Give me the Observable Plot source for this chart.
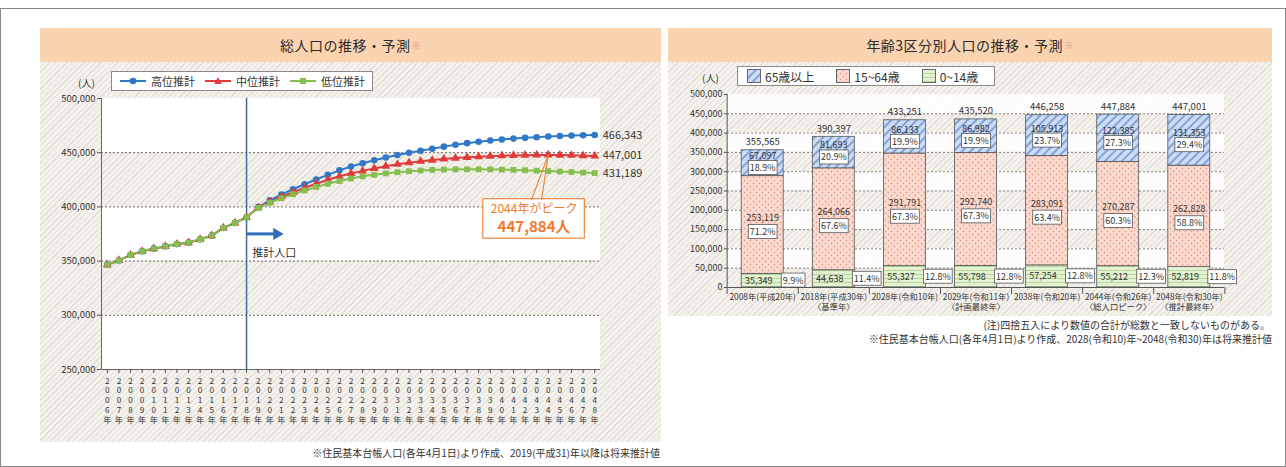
<!DOCTYPE html>
<html><head><meta charset="utf-8">
<script src="https://cdn.jsdelivr.net/npm/d3@7"></script>
<script src="https://cdn.jsdelivr.net/npm/@observablehq/plot@0.6"></script>
<style>
body{margin:0;width:1286px;height:467px;background:#fff;position:relative;overflow:hidden;font-family:"Noto Sans CJK JP","Noto Sans",sans-serif;color:#333}
.abs{position:absolute}
.hatch{background-color:#F5F2ED;background-image:repeating-linear-gradient(135deg, rgba(0,0,0,0) 0 3px, #E3DFD7 3px 4px);}
.hdr{background:#FAD4B0;display:flex;align-items:center;justify-content:center;font-size:14px;color:#2a2a2a;letter-spacing:0.5px}
.hdr sup{font-size:9px;color:#e08a8a;vertical-align:6px;margin-left:1px}
.legend{background:#fff;border:1px solid #8a8a8a;display:flex;align-items:center;font-size:11px;color:#333;box-sizing:border-box;white-space:nowrap}
.legend span{white-space:nowrap}
.note{font-size:10px;color:#333;white-space:nowrap;text-align:right}
</style></head>
<body>
<svg width="0" height="0" style="position:absolute">
 <defs>
  <pattern id="p65" width="6" height="6" patternUnits="userSpaceOnUse" patternTransform="rotate(45)">
   <rect width="6" height="6" fill="#CCDCF4"/>
   <line x1="1" y1="0" x2="1" y2="6" stroke="#6A8FD2" stroke-width="1.5"/>
  </pattern>
  <pattern id="p1564" width="6" height="6" patternUnits="userSpaceOnUse">
   <rect width="6" height="6" fill="#FADBD2"/>
   <circle cx="1.5" cy="1.5" r="0.9" fill="#EE9C88"/>
   <circle cx="4.5" cy="4.5" r="0.9" fill="#EE9C88"/>
  </pattern>
  <pattern id="p014" width="4" height="4" patternUnits="userSpaceOnUse">
   <rect width="4" height="4" fill="#E4F2D3"/>
   <line x1="0" y1="0.5" x2="4" y2="0.5" stroke="#A8CF86" stroke-width="0.8"/>
  </pattern>
 </defs>
</svg>

<div class="abs" style="left:0;top:8px;width:1284px;height:457px;border:1px solid #888;"></div>

<!-- Left panel -->
<div class="abs hdr" style="left:40px;top:28px;width:621px;height:34px;">総人口の推移・予測<sup>※</sup></div>
<div class="abs hatch" style="left:40px;top:62px;width:621px;height:380px;"></div>
<div class="abs" id="c1" style="left:40px;top:62px;width:623px;height:383px;"></div>
<div class="abs legend" style="left:111px;top:71px;width:262px;height:20px;padding-left:8px;">
  <svg width="26" height="10"><line x1="0" y1="5" x2="26" y2="5" stroke="#2F79C8" stroke-width="2"/><circle cx="13" cy="5" r="3.3" fill="#2F79C8"/></svg>
  <span style="margin:0 10px 0 5px">高位推計</span>
  <svg width="26" height="10"><line x1="0" y1="5" x2="26" y2="5" stroke="#E03A3A" stroke-width="2"/><path d="M13,1.2 L16.8,8 L9.2,8 Z" fill="#E03A3A"/></svg>
  <span style="margin:0 10px 0 5px">中位推計</span>
  <svg width="26" height="10"><line x1="0" y1="5" x2="26" y2="5" stroke="#86BF4F" stroke-width="2"/><rect x="10" y="2" width="6" height="6" fill="#86BF4F"/></svg>
  <span style="margin:0 0 0 5px">低位推計</span>
</div>
<div class="abs" style="left:78px;top:75px;font-size:10px;">(人)</div>
<div class="abs note" style="right:626px;top:445px;">※住民基本台帳人口(各年4月1日)より作成、2019(平成31)年以降は将来推計値</div>

<!-- Right panel -->
<div class="abs hdr" style="left:668px;top:28px;width:604px;height:34px;">年齢3区分別人口の推移・予測<sup>※</sup></div>
<div class="abs hatch" style="left:668px;top:62px;width:604px;height:254px;"></div>
<div class="abs" id="c2" style="left:668px;top:62px;width:612px;height:254px;"></div>
<div class="abs legend" style="left:737px;top:66px;width:258px;height:20px;padding-left:9px;font-size:12px;">
  <svg width="14" height="14"><rect x="0.5" y="0.5" width="13" height="13" fill="url(#p65)" stroke="#666"/></svg>
  <span style="margin:0 22px 0 4px">65歳以上</span>
  <svg width="14" height="14"><rect x="0.5" y="0.5" width="13" height="13" fill="url(#p1564)" stroke="#666"/></svg>
  <span style="margin:0 22px 0 4px">15~64歳</span>
  <svg width="14" height="14"><rect x="0.5" y="0.5" width="13" height="13" fill="url(#p014)" stroke="#666"/></svg>
  <span style="margin:0 0 0 4px">0~14歳</span>
</div>
<div class="abs" style="left:702px;top:70px;font-size:10px;">(人)</div>
<div class="abs note" style="right:16px;top:317px;">(注)四捨五入により数値の合計が総数と一致しないものがある。</div>
<div class="abs note" style="right:14px;top:331px;">※住民基本台帳人口(各年4月1日)より作成、2028(令和10)年~2048(令和30)年は将来推計値</div>

<script>
const FONT = '"Noto Sans CJK JP","Noto Sans",sans-serif';

// ---------- Chart 1 data: total population ----------
const seriesNames = ["高位推計", "中位推計", "低位推計"];
const seriesColors = ["#2F79C8", "#E03A3A", "#86BF4F"];
const seriesSymbols = ["circle", "triangle", "square"];
const historicalYears = d3.range(2006, 2019);
const historical = [346700, 350600, 355565, 359000, 361500, 363600, 365700, 367000, 370100, 373500, 380600, 385200, 390397];
const projYears = d3.range(2019, 2049);
const high = [399800, 406000, 411500, 416300, 420900, 425300, 429600, 433700, 437300, 440300,
              443100, 445600, 447900, 450000, 451800, 453700, 455600, 457300, 458800, 460100,
              461200, 462200, 463000, 463700, 464300, 464900, 465400, 465800, 466100, 466343];
const mid  = [399300, 404600, 409400, 413600, 417600, 421400, 425000, 428200, 430900, 433251,
              435520, 437500, 439300, 440800, 442100, 443200, 444200, 445000, 445700, 446258,
              446800, 447200, 447500, 447700, 447850, 447884, 447800, 447600, 447300, 447001];
const low  = [399000, 403800, 408000, 411700, 415200, 418400, 421300, 423900, 426200, 428200,
              429600, 430900, 432000, 432900, 433600, 434100, 434400, 434600, 434700, 434700,
              434600, 434400, 434100, 433800, 433400, 433000, 432600, 432200, 431700, 431189];
const yTicks1 = [250000, 300000, 350000, 400000, 450000, 500000];
const baseYear = 2018;

// ---------- Chart 2 data: 3 age groups ----------
const barCats = ["2008年(平成20年)", "2018年(平成30年)\n〈基準年〉", "2028年(令和10年)", "2029年(令和11年)\n〈計画最終年〉",
                 "2038年(令和20年)", "2044年(令和26年)\n〈総人口ピーク〉", "2048年(令和30年)\n〈推計最終年〉"];
const age0_14  = [35349, 44638, 55327, 55798, 57254, 55212, 52819];
const age15_64 = [253119, 264066, 291791, 292740, 283091, 270287, 262828];
const age65    = [67097, 81693, 86133, 86982, 105913, 122385, 131353];
const totals   = [355565, 390397, 433251, 435520, 446258, 447884, 447001];
const pct0_14  = ["9.9%", "11.4%", "12.8%", "12.8%", "12.8%", "12.3%", "11.8%"];
const pct15_64 = ["71.2%", "67.6%", "67.3%", "67.3%", "63.4%", "60.3%", "58.8%"];
const pct65    = ["18.9%", "20.9%", "19.9%", "19.9%", "23.7%", "27.3%", "29.4%"];
const yTicks2 = d3.range(0, 500001, 50000);

const fmt = d3.format(",");

// ---------- Chart 1 ----------
const projections = [high, mid, low];
const rows1 = [];
seriesNames.forEach((name, k) => {
  historicalYears.forEach((yr, i) => rows1.push({series: name, year: yr, value: historical[i]}));
  projYears.forEach((yr, i) => rows1.push({series: name, year: yr, value: projections[k][i]}));
});
const ends = seriesNames.map((name, k) => ({series: name, year: 2048, value: projections[k][projections[k].length - 1]}));
const peakIdx = d3.maxIndex(mid);
const peak = {year: projYears[peakIdx], value: mid[peakIdx]};
const box = {x1: peak.year - 5.6, x2: peak.year + 3.15, y1: 370650, y2: 407130};
const tail = [{x: peak.year - 1.43, y: box.y2}, {x: peak.year, y: peak.value}, {x: peak.year - 0.57, y: box.y2}];

const c1 = Plot.plot({
  width: 623, height: 383,
  marginLeft: 61, marginRight: 63, marginTop: 36, marginBottom: 76,
  x: {domain: [2005.5, 2048.5], axis: null},
  y: {domain: [250000, 500000], axis: null},
  color: {domain: seriesNames, range: seriesColors},
  symbol: {domain: seriesNames, range: seriesSymbols},
  style: {background: "transparent", fontFamily: FONT, fontSize: "10px", color: "#333", maxWidth: "none", overflow: "visible"},
  marks: [
    Plot.rect([[450000, 500000], [350000, 400000], [250000, 300000]], {y1: d => d[0], y2: d => d[1], fill: "white"}),
    Plot.ruleY([300000, 350000, 400000, 450000], {stroke: "#444", strokeDasharray: "2,2", strokeWidth: 0.8}),
    Plot.ruleX([baseYear], {stroke: "#3D6E9E", strokeWidth: 1.5}),
    Plot.line(rows1, {x: "year", y: "value", z: "series", stroke: "series", strokeWidth: 2}),
    Plot.dot(rows1, {x: "year", y: "value", fill: "series", symbol: "series", r: 3.3, stroke: null}),
    Plot.text(ends, {x: "year", y: "value", text: d => fmt(d.value), dx: 8, textAnchor: "start", fontSize: 11, fill: "#333"}),
    // 推計人口 arrow
    Plot.link([{x1: baseYear, x2: baseYear + 2.5, y: 375100}], {x1: "x1", x2: "x2", y1: "y", y2: "y", stroke: "#2E6FB8", strokeWidth: 3}),
    Plot.dot([{x: baseYear + 2.6, y: 375100}], {x: "x", y: "y", symbol: "triangle", rotate: 90, r: 4.5, fill: "#2E6FB8"}),
    Plot.text(["推計人口"], {x: baseYear + 0.5, y: 356700, textAnchor: "start", fontSize: 11, fill: "#333"}),
    // peak callout
    Plot.rect([box], {x1: "x1", x2: "x2", y1: "y1", y2: "y2", fill: "white", stroke: "#EE8A3E", strokeWidth: 1.2}),
    Plot.line(tail, {x: "x", y: "y", stroke: "#EE8A3E", strokeWidth: 1.2}),
    Plot.text([`${peak.year}年がピーク`], {x: (box.x1 + box.x2) / 2, y: 397800, fontSize: 12, fill: "#EE7B30"}),
    Plot.text([`${fmt(peak.value)}人`], {x: (box.x1 + box.x2) / 2, y: 381000, fontSize: 15, fontWeight: "bold", fill: "#EE7B30"}),
    // axes
    Plot.ruleX([2005.5], {stroke: "#666"}),
    Plot.ruleY([250000], {stroke: "#666"}),
    Plot.axisY({ticks: yTicks1, tickFormat: fmt, tickSize: 4, tickPadding: 2, fontSize: 9.5, label: null, stroke: "#555"}),
    Plot.axisX({ticks: d3.range(2006, 2049), tickFormat: d => [...`${d}年`].join("\n"), tickSize: 4, tickPadding: 3,
                fontSize: 8.2, lineHeight: 1.2, label: null, stroke: "#555"})
  ]
});
document.getElementById("c1").appendChild(c1);

// ---------- Chart 2 ----------
const W2 = 612, ML2 = 59, MR2 = 56, PI = 0.41, PO = 0.2;
const step = (W2 - ML2 - MR2) / (barCats.length - PI + 2 * PO);
const rows2 = barCats.map((cat, i) => ({cat, a: age0_14[i], b: age15_64[i], c: age65[i], total: totals[i],
  pa: pct0_14[i], pb: pct15_64[i], pc: pct65[i]}));

const c2 = Plot.plot({
  width: W2, height: 254,
  marginLeft: ML2, marginRight: MR2, marginTop: 32, marginBottom: 29,
  x: {domain: barCats, paddingInner: PI, paddingOuter: PO, round: false, axis: null},
  y: {domain: [0, 500000], axis: null},
  style: {background: "transparent", fontFamily: FONT, fontSize: "9px", color: "#333", maxWidth: "none", overflow: "visible"},
  marks: [
    Plot.rect([[50000, 100000], [150000, 200000], [250000, 300000], [350000, 400000], [450000, 500000]], {y1: d => d[0], y2: d => d[1], fill: "white", fillOpacity: 0.85}),
    Plot.ruleY(yTicks2.filter(v => v > 0 && v < 500000), {stroke: "#555", strokeDasharray: "2,2", strokeWidth: 0.7}),
    Plot.barY(rows2, {x: "cat", y1: 0, y2: "a", fill: "url(#p014)", stroke: "#555", strokeWidth: 0.8}),
    Plot.barY(rows2, {x: "cat", y1: "a", y2: d => d.a + d.b, fill: "url(#p1564)", stroke: "#555", strokeWidth: 0.8}),
    Plot.barY(rows2, {x: "cat", y1: d => d.a + d.b, y2: d => d.a + d.b + d.c, fill: "url(#p65)", stroke: "#555", strokeWidth: 0.8}),
    Plot.text(rows2, {x: "cat", y: "total", text: d => fmt(d.total), dy: -8, fontSize: 9.5}),
    Plot.text(rows2, {x: "cat", y: d => d.a + d.b + d.c / 2, text: d => fmt(d.c), dy: -7, fontSize: 9}),
    Plot.text(rows2, {x: "cat", y: d => d.a + d.b + d.c / 2, text: "pc", dy: 5, fontSize: 9, className: "pctbox"}),
    Plot.text(rows2, {x: "cat", y: d => d.a + d.b / 2, text: d => fmt(d.b), dy: -7, fontSize: 9}),
    Plot.text(rows2, {x: "cat", y: d => d.a + d.b / 2, text: "pb", dy: 7, fontSize: 9, className: "pctbox"}),
    Plot.text(rows2, {x: "cat", y: d => d.a / 2, text: d => fmt(d.a), dx: -4, fontSize: 9}),
    Plot.text(rows2, {x: "cat", y: d => d.a / 2, text: "pa", dx: 20, textAnchor: "start", fontSize: 9, className: "pctbox"}),
    // axis line + boundary ticks
    Plot.ruleX(barCats.slice(0, 1), {x: d => d, dx: -step / 2, y1: -18000, y2: 500000, stroke: "#555"}),
    Plot.ruleX(barCats.slice(1), {x: d => d, dx: -step / 2, y1: 0, y2: -18000, stroke: "#555"}),
    Plot.ruleX(barCats.slice(-1), {x: d => d, dx: step / 2, y1: 0, y2: -18000, stroke: "#555"}),
    Plot.ruleY([0], {stroke: "#555"}),
    Plot.axisY({ticks: yTicks2, tickFormat: fmt, tickSize: 3, tickPadding: 2, fontSize: 9, label: null, stroke: "#555"}),
    Plot.axisX({tickSize: 0, tickPadding: 5, fontSize: 8.3, lineHeight: 1.25, label: null})
  ]
});
document.getElementById("c2").appendChild(c2);

// white framed boxes behind percentage labels
c2.querySelectorAll("g.pctbox text").forEach(t => {
  const b = t.getBBox();
  const r = document.createElementNS("http://www.w3.org/2000/svg", "rect");
  r.setAttribute("x", b.x - 1.5);
  r.setAttribute("y", b.y - 0.5);
  r.setAttribute("width", b.width + 3);
  r.setAttribute("height", b.height + 1);
  r.setAttribute("fill", "white");
  r.setAttribute("stroke", "#555");
  r.setAttribute("stroke-width", "0.8");
  if (t.getAttribute("transform")) r.setAttribute("transform", t.getAttribute("transform"));
  t.parentNode.insertBefore(r, t);
});
</script>
</body></html>
